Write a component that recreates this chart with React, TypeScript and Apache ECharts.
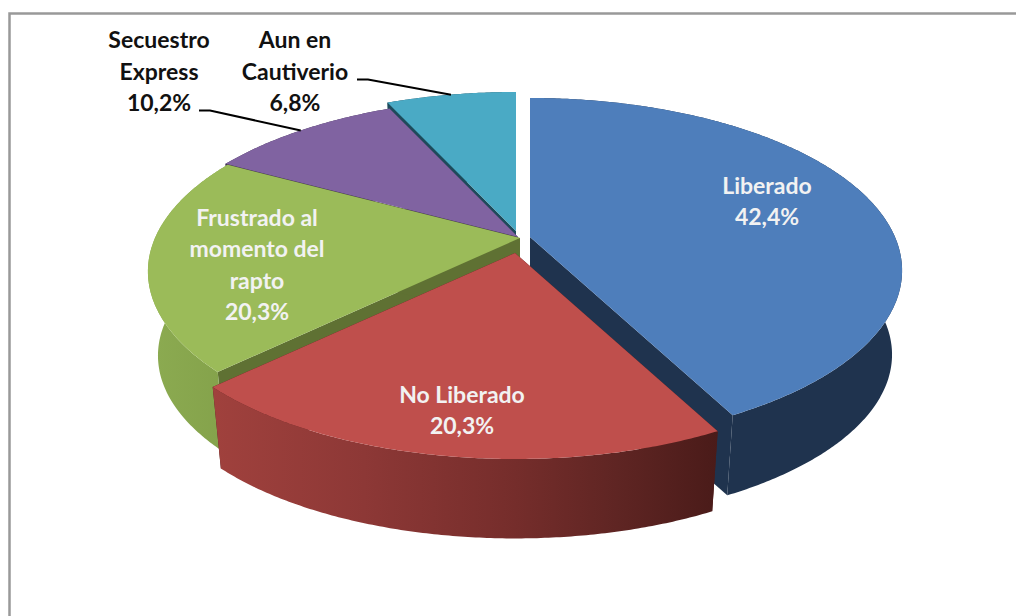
import React, { useEffect, useRef } from "react";
import * as echarts from "echarts";

// ---- data ----
const CATEGORIES = ["Liberado", "No Liberado", "Frustrado al\nmomento del\nrapto", "Secuestro\nExpress", "Aun en\nCautiverio"];
const VALUES = [42.4, 20.3, 20.3, 10.2, 6.8];

// ---- styles & layout (per slice, same order) ----
const TOP_COLORS = ["#4e7ebb", "#bf4f4c", "#9bbb59", "#8063a1", "#4aaac5"];
const INNER_COLORS = ["#1f334e", "#4d1c1a", "#5f7133", "#3f3151", "#1d4b5b"];
const OUTER_STOPS: [number, string][][] = [
  [[0, "#1f334e"], [1, "#1f334e"]],
  [[0, "#a0413d"], [0.3, "#8d3836"], [0.6, "#752d2b"], [0.8, "#5f2523"], [1, "#4a1b19"]],
  [[0, "#8cab51"], [1, "#83a14a"]],
  [[0, "#3f3151"], [1, "#3f3151"]],
  [[0, "#1d4b5b"], [1, "#1d4b5b"]],
];
const APEX_X = [530, 515, 520, 518, 516];
const APEX_Y = [237, 253, 238, 237, 231];
const PAINT_ORDER = [3, 4, 2, 1, 0]; // larger is painted later, per slice
const LABEL_X = [767, 462, 257, 159, 295];
const LABEL_Y = [200.5, 409.5, 264, 70.5, 70.5];
const LABEL_COLORS = ["#f2f2f2", "#f2f2f2", "#f2f2f2", "#111111", "#111111"];
// leader line: where it leaves the label (null = no leader)
const LEADER_START: ([number, number] | null)[] = [null, null, null, [199, 110.5], [357, 79.5]];
const LEADER_RUN = 11;

// ---- projection of the disc ----
const RX = 365;
const RY = 166;
const PERSPECTIVE = 5.15;
const WALL_DROP = 85;
const WALL_SCALE = 0.973;
const STEP = 0.5;

function project(deg: number, radius = 1) {
  const a = (deg * Math.PI) / 180;
  const X = Math.sin(a) * radius;
  const Y = -Math.cos(a) * radius;
  const s = PERSPECTIVE / (PERSPECTIVE - Y);
  return [X * s * RX, Y * s * RY];
}

const FONT = "Lato";
const total = VALUES.reduce((a, b) => a + b, 0);
const fmt = (v: number) => v.toFixed(1).replace(".", ",") + "%";

function renderItem(params: any, api: any) {
  const i = params.dataIndex;
  const value = api.value(0);
  const before = VALUES.slice(0, i).reduce((a, b) => a + b, 0);
  const a0 = (before / total) * 360;
  const a1 = ((before + value) / total) * 360;
  const ax = APEX_X[i];
  const ay = APEX_Y[i];
  const top = (d: number, r = 1) => {
    const p = project(d, r);
    return [ax + p[0], ay + p[1]];
  };
  const bottom = (d: number) => {
    const p = project(d);
    return [ax + p[0] * WALL_SCALE, ay + p[1] * WALL_SCALE + WALL_DROP];
  };
  const arc: number[] = [];
  for (let d = a0; d < a1; d += STEP) arc.push(d);
  arc.push(a1);

  const topArc = arc.map((d) => top(d));
  const bottomArc = arc.map((d) => bottom(d));
  const apexTop = [ax, ay];
  const apexBottom = [ax, ay + WALL_DROP];
  const xs = topArc.concat(bottomArc).map((p) => p[0]);
  const minX = Math.min(...xs);
  const maxX = Math.max(...xs);
  const z = PAINT_ORDER[i] * 10;

  const outerFill = new echarts.graphic.LinearGradient(
    minX, 0, maxX, 0,
    OUTER_STOPS[i].map(([offset, color]) => ({ offset, color })),
    true as any
  );

  const children: any[] = [
    { type: "polygon", z2: z + 1, shape: { points: [apexTop, top(a0), bottom(a0), apexBottom] }, style: { fill: INNER_COLORS[i] } },
    { type: "polygon", z2: z + 1, shape: { points: [apexTop, top(a1), bottom(a1), apexBottom] }, style: { fill: INNER_COLORS[i] } },
    { type: "polygon", z2: z + 2, shape: { points: topArc.concat(bottomArc.slice().reverse()) }, style: { fill: outerFill } },
    { type: "polygon", z2: z + 3, shape: { points: [apexTop].concat(topArc) }, style: { fill: TOP_COLORS[i] } },
    {
      type: "text",
      z2: 200,
      style: {
        text: CATEGORIES[i] + "\n" + fmt(value),
        x: LABEL_X[i],
        y: LABEL_Y[i],
        align: "center",
        verticalAlign: "middle",
        fontFamily: FONT,
        fontWeight: "bold",
        fontSize: 23,
        lineHeight: 31.3,
        fill: LABEL_COLORS[i],
      },
    },
  ];

  const start = LEADER_START[i];
  if (start) {
    const end = top((a0 + a1) / 2);
    children.push({
      type: "polyline",
      z2: 150,
      shape: { points: [start, [start[0] + LEADER_RUN, start[1]], end] },
      style: { stroke: "#000000", lineWidth: 2, fill: "none" },
    });
  }
  return { type: "group", children };
}

export default function App() {
  const ref = useRef<HTMLDivElement>(null);
  useEffect(() => {
    const chart = echarts.init(ref.current!, null, { renderer: "svg" });
    chart.setOption({
      animation: false,
      backgroundColor: "#ffffff",
      graphic: [
        {
          type: "rect",
          left: undefined,
          x: 9.5,
          y: 13.5,
          shape: { x: 0, y: 0, width: 1100, height: 700 },
          style: { fill: "none", stroke: "#999999", lineWidth: 2.5 },
          silent: true,
        },
      ],
      series: [
        {
          type: "custom",
          coordinateSystem: "none",
          silent: true,
          renderItem,
          data: VALUES.map((value, i) => ({ name: CATEGORIES[i], value })),
        },
      ],
    });
    return () => chart.dispose();
  }, []);
  return <div ref={ref} style={{ position: "fixed", left: 0, top: 0, width: 1016, height: 616 }} />;
}
